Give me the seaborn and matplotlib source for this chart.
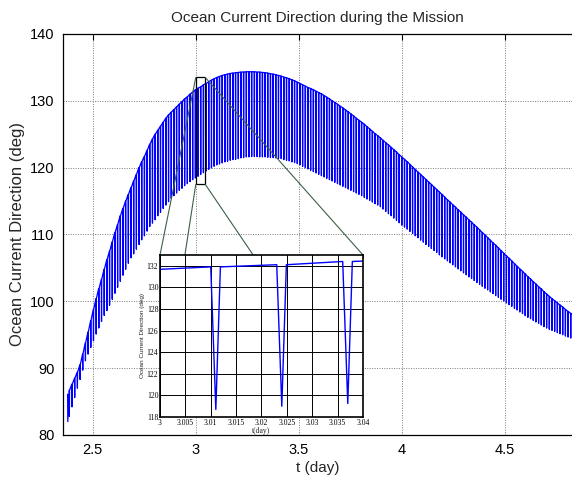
import numpy as np
import pandas as pd
import matplotlib
matplotlib.use("Agg")
import matplotlib.pyplot as plt
import seaborn as sns
from matplotlib.patches import Rectangle, ConnectionPatch

# ---------------- data ----------------
title = "Ocean Current Direction during the Mission"
xlabel = "t (day)"
ylabel = "Ocean Current Direction (deg)"
xticks = [2.5, 3, 3.5, 4, 4.5]
xticklabels = ["2.5", "3", "3.5", "4", "4.5"]
yticks = [80, 90, 100, 110, 120, 130, 140]
inset_xticks = [3.0, 3.005, 3.01, 3.015, 3.02, 3.025, 3.03, 3.035, 3.04]
inset_xticklabels = ["3", "3.005", "3.01", "3.015", "3.02", "3.025", "3.03", "3.035", "3.04"]
inset_yticks = [118, 120, 122, 124, 126, 128, 130, 132]

# first recorded samples
start_t = [2.3785, 2.3795]
start_v = [86.1, 82.0]

# periodic dips: time of first dip and dip period (day)
first_dip = 2.387
dip_period = 0.013

# value just before each dip (deg)
upper = [
    86.7, 87.6, 88.5, 89.4, 90.5, 92.1, 93.8, 95.4, 97.1, 98.8,
    100.4, 101.9, 103.3, 104.8, 106.2, 107.5, 108.9, 110.3, 111.5, 112.8,
    113.9, 115.0, 116.0, 117.0, 118.0, 119.0, 120.0, 120.9, 121.7, 122.6,
    123.5, 124.3, 125.0, 125.6, 126.2, 126.8, 127.4, 127.9, 128.3, 128.7,
    129.1, 129.5, 129.9, 130.3, 130.6, 131.0, 131.3, 131.65,
    131.9, 132.1, 132.4, 132.6, 132.85, 133.1, 133.3, 133.5, 133.65, 133.8,
    133.9, 134.0, 134.1, 134.15, 134.2, 134.25, 134.3, 134.3, 134.35, 134.35,
    134.35, 134.35, 134.3, 134.3, 134.25, 134.2, 134.15, 134.05, 134.0, 133.9,
    133.8, 133.7, 133.55, 133.45, 133.3, 133.15, 133.0, 132.8, 132.6, 132.4,
    132.2, 132.0, 131.85, 131.65, 131.45, 131.25, 131.05, 130.8, 130.55, 130.3,
    130.0, 129.75, 129.5, 129.2, 128.95, 128.65, 128.35, 128.05, 127.75, 127.4,
    127.1, 126.8, 126.5, 126.15, 125.8, 125.45, 125.1, 124.8, 124.45, 124.1,
    123.75, 123.4, 123.05, 122.7, 122.35, 121.95, 121.6, 121.25, 120.9, 120.5,
    120.1, 119.75, 119.35, 119.0, 118.6, 118.25, 117.85, 117.5, 117.1, 116.75,
    116.35, 116.0, 115.6, 115.2, 114.85, 114.45, 114.1, 113.7, 113.35, 112.95,
    112.6, 112.2, 111.85, 111.45, 111.1, 110.7, 110.3, 109.95, 109.55, 109.15,
    108.75, 108.4, 108.0, 107.6, 107.2, 106.8, 106.45, 106.05, 105.65, 105.25,
    104.85, 104.5, 104.1, 103.7, 103.35, 102.95, 102.6, 102.2, 101.85, 101.45,
    101.1, 100.75, 100.4, 100.1, 99.75, 99.45, 99.15, 98.8, 98.5, 98.2,
    97.9,
]

# value at the bottom of each dip (deg)
lower = [
    82.8, 84.2, 85.6, 87.0, 88.3, 89.7, 91.1, 92.1, 93.1, 94.1,
    95.1, 96.0, 97.0, 97.9, 98.6, 99.4, 100.3, 101.2, 102.1, 103.0,
    103.9, 104.8, 105.7, 106.5, 107.1, 107.8, 108.5, 109.2, 109.8, 110.5,
    111.2, 111.7, 112.2, 112.8, 113.3, 113.9, 114.4, 114.9, 115.4, 115.8,
    116.2, 116.6, 116.9, 117.3, 117.6, 117.9, 118.2, 118.45,
    118.7, 119.0, 119.25, 119.5, 119.75, 119.95, 120.2, 120.4, 120.55, 120.7,
    120.85, 120.95, 121.1, 121.2, 121.25, 121.35, 121.45, 121.5, 121.6, 121.6,
    121.65, 121.65, 121.65, 121.6, 121.6, 121.6, 121.55, 121.5, 121.5, 121.45,
    121.4, 121.35, 121.2, 121.1, 121.0, 120.85, 120.75, 120.6, 120.4, 120.2,
    120.0, 119.8, 119.6, 119.4, 119.2, 119.0, 118.8, 118.6, 118.4, 118.2,
    118.0, 117.8, 117.6, 117.4, 117.2, 117.0, 116.8, 116.6, 116.4, 116.2,
    116.0, 115.8, 115.55, 115.3, 115.1, 114.85, 114.6, 114.4, 114.15, 113.8,
    113.45, 113.1, 112.8, 112.45, 112.1, 111.75, 111.4, 111.1, 110.8, 110.45,
    110.15, 109.8, 109.5, 109.15, 108.85, 108.5, 108.2, 107.9, 107.6, 107.3,
    106.95, 106.65, 106.35, 106.05, 105.75, 105.45, 105.15, 104.85, 104.55, 104.25,
    103.95, 103.65, 103.4, 103.1, 102.8, 102.55, 102.25, 101.95, 101.7, 101.4,
    101.15, 100.85, 100.6, 100.3, 100.05, 99.75, 99.5, 99.25, 98.95, 98.7,
    98.4, 98.15, 97.85, 97.6, 97.4, 97.15, 96.9, 96.7, 96.45, 96.2,
    96.0, 95.8, 95.65, 95.5, 95.3, 95.15, 95.0, 94.8, 94.65, 94.5,
    94.35,
]

# ---------------- build the series ----------------
dip_times = first_dip + dip_period * np.arange(len(upper))
ts = list(start_t)
vs = list(start_v)
for tk, u, l in zip(dip_times, upper, lower):
    ts += [tk - 0.0010, tk, tk + 0.0009]
    vs += [u, l, u]
df = pd.DataFrame({"t": ts, "v": vs})

# ---------------- styling ----------------
sns.set_style("white")
plt.rcParams["font.family"] = ["Liberation Sans", "DejaVu Sans"]
serif = ["Liberation Serif", "DejaVu Serif"]

fig = plt.figure(figsize=(5.72, 4.8), dpi=100)
W, H = 572.0, 480.0
ax = fig.add_axes([63 / W, 45 / H, 509 / W, 401 / H])
axins = fig.add_axes([160 / W, 63 / H, 203 / W, 162 / H])

line_color = "#0000ff"

# main plot
sns.lineplot(data=df, x="t", y="v", ax=ax, color=line_color, linewidth=0.9,
             estimator=None, sort=False)
ax.set_xlim(2.3562, 4.824)
ax.set_ylim(80, 140)
ax.set_xticks(xticks)
ax.set_xticklabels(xticklabels)
ax.set_yticks(yticks)
ax.grid(True, color="#7a7a7a", linestyle=(0, (1, 1.5)), linewidth=0.7)
ax.set_axisbelow(True)
ax.tick_params(direction="in", length=4, width=0.8, top=True, right=False,
               labelsize=10.5, pad=6, colors="black")
for s in ["left", "bottom", "top"]:
    ax.spines[s].set_color("black")
    ax.spines[s].set_linewidth(0.9)
ax.spines["right"].set_visible(False)
ax.set_title(title, fontsize=11, pad=8.5)
ax.set_xlabel(xlabel, fontsize=11)
ax.set_ylabel(ylabel, fontsize=12)
ax.xaxis.set_label_coords(0.5, -0.064)
ax.yaxis.set_label_coords(-0.074, 0.5)

# zoom rectangle
rect = Rectangle((3.0, 117.5), 0.046, 16.0, fill=False, edgecolor="black",
                 linewidth=0.9, zorder=4)
ax.add_patch(rect)

# inset
sns.lineplot(data=df, x="t", y="v", ax=axins, color=line_color, linewidth=1.0,
             estimator=None, sort=False)
axins.set_facecolor("white")
axins.set_xlim(3.0, 3.04)
axins.set_ylim(118, 133)
axins.set_xticks(inset_xticks)
axins.set_xticklabels(inset_xticklabels, fontfamily=serif)
axins.set_yticks(inset_yticks)
axins.set_yticklabels([str(v) for v in inset_yticks], fontfamily=serif)
axins.grid(True, color="black", linestyle="-", linewidth=0.7)
axins.set_axisbelow(True)
axins.tick_params(direction="in", length=2, width=0.5, labelsize=5.5, pad=1.2,
                  top=True, right=True, colors="black")
for s in axins.spines.values():
    s.set_color("black")
    s.set_linewidth(1.2)
axins.set_xlabel("t(day)", fontsize=5.5, fontfamily=serif, labelpad=0.3)
axins.set_ylabel(ylabel, fontsize=4.6, labelpad=1.5)

# connector lines from rectangle corners to inset corners (under the inset)
conn_color = "#3c6046"
corners = [((3.0, 133.5), (0, 1)), ((3.046, 133.5), (1, 1)),
           ((3.0, 117.5), (0, 0)), ((3.046, 117.5), (1, 0))]
for a, b in corners:
    cp = ConnectionPatch(xyA=a, coordsA=ax.transData, xyB=b,
                         coordsB=axins.transAxes, color=conn_color,
                         linewidth=0.8)
    cp.set_zorder(2)
    fig.add_artist(cp)
ax.set_zorder(0)
axins.set_zorder(5)

fig.savefig("out.png", dpi=100)
